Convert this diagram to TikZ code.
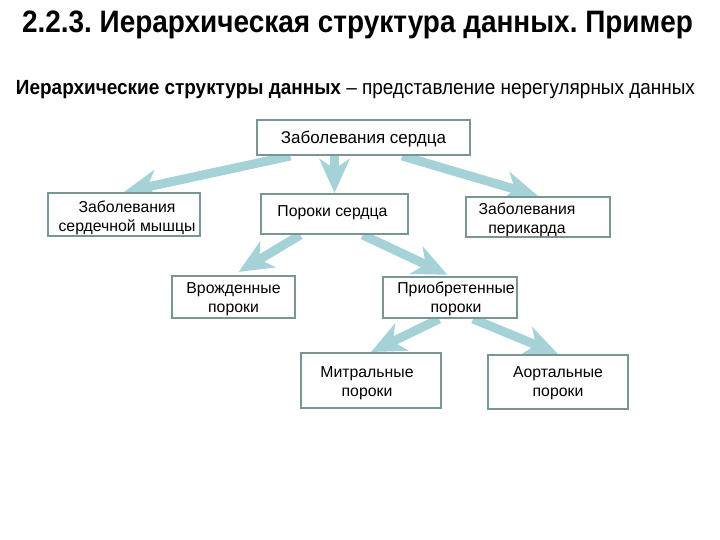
\documentclass[tikz,border=0pt]{standalone}
\usepackage{graphicx}
\usepackage{fontspec}
\setmainfont{Liberation Sans}
\usetikzlibrary{arrows.meta,calc,backgrounds}
\definecolor{arr}{RGB}{164,210,214}
\definecolor{bord}{RGB}{120,150,150}
\tikzset{
 box/.style={draw=bord, line width=2pt, fill=white, inner sep=0pt},
 lbl/.style={align=center, font=\fontsize{15.8}{19}\selectfont, inner sep=0pt},
 conn/.style={draw=arr, line width=9pt, -{Stealth[length=34pt,width=30pt,inset=10pt]}},
}
\frenchspacing
\begin{document}
\begin{tikzpicture}[x=1pt,y=-1pt]
\useasboundingbox (0,0) rectangle (720,540);
\node[inner sep=0pt] (title) at (357.5,25) {\resizebox{671pt}{\height}{\bfseries\fontsize{31}{34}\selectfont 2.2.3. Иерархическая структура данных. Пример}};
\node[inner sep=0pt] (sub) at (355.5,90) {\resizebox{679pt}{\height}{\fontsize{20.5}{24}\selectfont\textbf{Иерархические структуры данных} – представление нерегулярных данных}};

\node[box, minimum width=213pt, minimum height=35pt] (top) at (363.5,137.5) {};
\node[box, minimum width=152pt, minimum height=43pt] (myo) at (124,214.5) {};
\node[box, minimum width=147pt, minimum height=40pt] (por) at (334.5,214) {};
\node[box, minimum width=144pt, minimum height=40pt] (peri) at (538,217) {};
\node[box, minimum width=123pt, minimum height=42pt] (vrozh) at (233.5,297) {};
\node[box, minimum width=134pt, minimum height=41pt] (priob) at (450,297.5) {};
\node[box, minimum width=140pt, minimum height=55pt] (mitr) at (371,380.5) {};
\node[box, minimum width=140pt, minimum height=54pt] (aort) at (558,382) {};

\node[lbl, font=\fontsize{17}{20}\selectfont] (top-t) at ([yshift=-2pt]top.center) {Заболевания сердца};
\node[lbl] (myo-t) at ([xshift=3pt,yshift=-3pt]myo.center) {Заболевания\\сердечной мышцы};
\node[lbl] (por-t) at ([xshift=-2pt,yshift=1pt]por.center) {Пороки сердца};
\node[lbl] (peri-t) at ([xshift=-11pt,yshift=-2.5pt]peri.center) {Заболевания\\перикарда};
\node[lbl] (vrozh-t) at ([yshift=-2pt]vrozh.center) {Врожденные\\пороки};
\node[lbl] (priob-t) at ([xshift=6pt,yshift=-1.5pt]priob.center) {Приобретенные\\пороки};
\node[lbl] (mitr-t) at ([xshift=-4pt,yshift=-3pt]mitr.center) {Митральные\\пороки};
\node[lbl] (aort-t) at ([yshift=-1.5pt]aort.center) {Аортальные\\пороки};

\begin{scope}[on background layer]
\draw[conn] ($(top.south west)!0.16!(top.south east)$) -- (myo.north);
\draw[conn] (por.north |- top.south) -- (por.north);
\draw[conn] ($(top.south west)!0.68!(top.south east)$) -- (peri.north);
\draw[conn, shorten >=6pt] ($(por.south west)!0.27!(por.south east)$) -- (vrozh.north);
\draw[conn, shorten >=3pt] ($(por.south west)!0.69!(por.south east)$) -- (priob.north);
\draw[conn] ($(priob.south west)!0.42!(priob.south east)$) -- (mitr.north);
\draw[conn] ($(priob.south west)!0.67!(priob.south east)$) -- (aort.north);
\end{scope}
\end{tikzpicture}
\end{document}
